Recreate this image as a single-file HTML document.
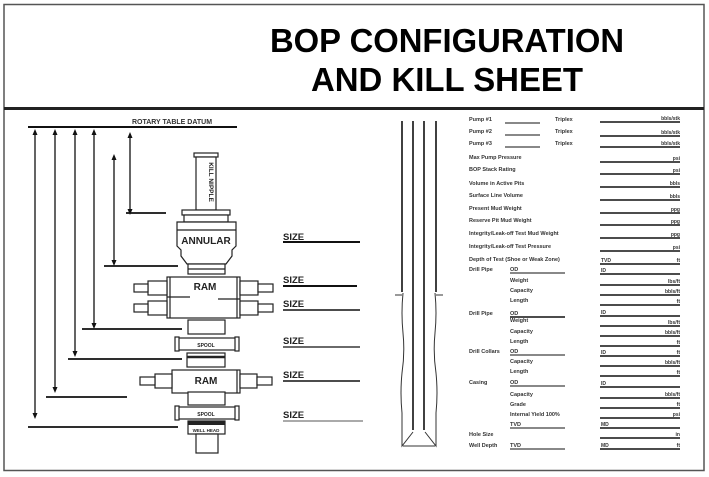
<!DOCTYPE html>
<html><head><meta charset="utf-8"><style>
html,body{margin:0;padding:0;background:#fff;}
svg{display:block;}
text{font-family:"Liberation Sans",sans-serif;}
</style></head><body>
<svg width="709" height="477" viewBox="0 0 709 477" xmlns="http://www.w3.org/2000/svg">
<rect x="0" y="0" width="709" height="477" fill="#fff"/>
<rect x="4" y="4.5" width="700" height="466" fill="none" stroke="#555" stroke-width="1.5"/>
<line x1="4" y1="108.5" x2="704" y2="108.5" stroke="#222" stroke-width="3"/>
<text x="447" y="52" font-size="33" font-weight="bold" text-anchor="middle" textLength="354" lengthAdjust="spacingAndGlyphs">BOP CONFIGURATION</text>
<text x="447" y="91" font-size="33" font-weight="bold" text-anchor="middle" textLength="272" lengthAdjust="spacingAndGlyphs">AND KILL SHEET</text>

<g stroke="#111" fill="none">
<!-- datum -->
<line x1="28" y1="127" x2="237" y2="127" stroke-width="2"/>
<!-- vertical arrows -->
<g stroke-width="1.3">
<line x1="35" y1="132" x2="35" y2="416"/>
<line x1="55" y1="132" x2="55" y2="390"/>
<line x1="75" y1="132" x2="75" y2="354"/>
<line x1="94" y1="132" x2="94" y2="326"/>
<line x1="130" y1="135" x2="130" y2="212"/>
<line x1="114" y1="157" x2="114" y2="263"/>
</g>
<!-- horizontal refs -->
<g stroke-width="1.8">
<line x1="126" y1="213" x2="166" y2="213"/>
<line x1="104" y1="266" x2="178" y2="266"/>
<line x1="82" y1="329" x2="182" y2="329"/>
<line x1="68" y1="359" x2="182" y2="359"/>
<line x1="46" y1="397" x2="127" y2="397"/>
<line x1="28" y1="427" x2="178" y2="427"/>
</g>
</g>
<g fill="#111">
<path d="M35 129 l-2.5 6 h5z M35 419 l-2.5 -6 h5z"/>
<path d="M55 129 l-2.5 6 h5z M55 393 l-2.5 -6 h5z"/>
<path d="M75 129 l-2.5 6 h5z M75 357 l-2.5 -6 h5z"/>
<path d="M94 129 l-2.5 6 h5z M94 329 l-2.5 -6 h5z"/>
<path d="M130 132 l-2.5 6 h5z M130 215 l-2.5 -6 h5z"/>
<path d="M114 154 l-2.5 6 h5z M114 266 l-2.5 -6 h5z"/>
</g>
<text x="172" y="124" font-size="7" font-weight="bold" text-anchor="middle" fill="#333">ROTARY TABLE DATUM</text>

<!-- BOP stack -->
<g stroke="#222" stroke-width="1.2" fill="#fff">
<!-- kill nipple -->
<rect x="194" y="153" width="24" height="4"/>
<rect x="196" y="157" width="20" height="53"/>
<!-- annular -->
<rect x="182" y="210" width="48" height="5"/>
<rect x="184" y="215" width="44" height="7"/>
<path d="M177 222 h59 v24 l-4 4 v6 l-6 8 h-39 l-6 -8 v-6 l-4 -4 z"/>
<line x1="177" y1="230" x2="236" y2="230"/>
<rect x="188" y="264" width="37" height="10"/>
<line x1="188" y1="269" x2="225" y2="269"/>
<!-- double ram -->
<rect x="167" y="277" width="73" height="41"/>
<line x1="170" y1="277" x2="170" y2="318"/>
<line x1="237" y1="277" x2="237" y2="318"/>
<line x1="167" y1="297" x2="190" y2="297"/>
<line x1="218" y1="299" x2="240" y2="299"/>
<rect x="148" y="281" width="19" height="14"/><rect x="134" y="284" width="14" height="8"/>
<rect x="148" y="301" width="19" height="14"/><rect x="134" y="304" width="14" height="8"/>
<rect x="240" y="281" width="18" height="14"/><rect x="258" y="284" width="15" height="8"/>
<rect x="240" y="301" width="18" height="14"/><rect x="258" y="304" width="15" height="8"/>
<!-- flange -->
<rect x="188" y="320" width="37" height="14"/>
<!-- spool -->
<rect x="178" y="338" width="58" height="12"/>
<rect x="175" y="337" width="4" height="14"/><rect x="235" y="337" width="4" height="14"/>
<!-- flange -->
<rect x="187" y="353" width="38" height="14"/>
<line x1="187" y1="357" x2="225" y2="357" stroke-width="2.5"/>
<!-- ram 2 -->
<rect x="172" y="370" width="68" height="23"/>
<line x1="237" y1="370" x2="237" y2="393"/>
<rect x="155" y="374" width="17" height="14"/><rect x="140" y="377" width="15" height="8"/>
<rect x="240" y="374" width="17" height="14"/><rect x="257" y="377" width="15" height="8"/>
<!-- flange -->
<rect x="188" y="392" width="37" height="13"/>
<!-- spool 2 -->
<rect x="178" y="407" width="58" height="12"/>
<rect x="175" y="406" width="4" height="14"/><rect x="235" y="406" width="4" height="14"/>
<!-- wellhead -->
<rect x="188" y="421" width="37" height="13"/>
<rect x="196" y="434" width="22" height="19"/>
</g>
<rect x="188" y="421" width="37" height="4" fill="#222"/>
<g font-weight="bold" fill="#222" text-anchor="middle">
<text x="0" y="0" font-size="6.5" transform="translate(209 182) rotate(90)">KILL NIPPLE</text>
<text x="206" y="244" font-size="10">ANNULAR</text>
<text x="205" y="290" font-size="10">RAM</text>
<text x="206" y="347" font-size="5">SPOOL</text>
<text x="206" y="384" font-size="10">RAM</text>
<text x="206" y="416" font-size="5">SPOOL</text>
<text x="206" y="432" font-size="4.5">WELL HEAD</text>
</g>
<!-- SIZE -->
<g font-size="9.5" font-weight="bold" fill="#222">
<text x="283" y="240">SIZE</text><line x1="283" y1="242" x2="360" y2="242" stroke="#111" stroke-width="2"/>
<text x="283" y="283">SIZE</text><line x1="283" y1="286" x2="357" y2="286" stroke="#111" stroke-width="2"/>
<text x="283" y="307">SIZE</text><line x1="283" y1="310" x2="360" y2="310" stroke="#111" stroke-width="1.5"/>
<text x="283" y="344">SIZE</text><line x1="283" y1="347" x2="360" y2="347" stroke="#111" stroke-width="1.3"/>
<text x="283" y="378">SIZE</text><line x1="283" y1="381" x2="360" y2="381" stroke="#111" stroke-width="1.5"/>
<text x="283" y="418">SIZE</text><line x1="283" y1="421" x2="363" y2="421" stroke="#555" stroke-width="1"/>
</g>

<!-- well -->
<g stroke="#111" stroke-width="1.6" fill="none">
<line x1="402" y1="121" x2="402" y2="292"/>
<line x1="413" y1="121" x2="413" y2="430"/>
<line x1="424" y1="121" x2="424" y2="430"/>
<line x1="436" y1="121" x2="436" y2="292"/>
</g>
<g stroke="#333" stroke-width="1" fill="none">
<path d="M395 295 h7 M436 295 h7"/>
<path d="M403 293 q-2 20 0 40 q2 20 -1 40 q-2 20 0 40 v33 l11 -14 M435 293 q2 20 0 40 q-2 20 1 40 q2 20 0 40 v33 l-11 -14"/>
<line x1="403" y1="446" x2="435" y2="446"/>
</g>

<!-- form -->
<g font-size="5.5" font-weight="bold" fill="#333">
<text x="469" y="121">Pump #1</text><text x="555" y="121">Triplex</text>
<text x="469" y="133">Pump #2</text><text x="555" y="133">Triplex</text>
<text x="469" y="145">Pump #3</text><text x="555" y="145">Triplex</text>
<text x="469" y="159">Max Pump Pressure</text>
<text x="469" y="171">BOP Stack Rating</text>
<text x="469" y="185">Volume in Active Pits</text>
<text x="469" y="197">Surface Line Volume</text>
<text x="469" y="210">Present Mud Weight</text>
<text x="469" y="222">Reserve Pit Mud Weight</text>
<text x="469" y="235">Integrity/Leak-off Test Mud Weight</text>
<text x="469" y="248">Integrity/Leak-off Test Pressure</text>
<text x="469" y="261">Depth of Test (Shoe or Weak Zone)</text>
<text x="469" y="271">Drill Pipe</text><text x="510" y="271">OD</text>
<text x="510" y="282">Weight</text>
<text x="510" y="292">Capacity</text>
<text x="510" y="302">Length</text>
<text x="469" y="315">Drill Pipe</text><text x="510" y="315">OD</text>
<text x="510" y="322">Weight</text>
<text x="510" y="333">Capacity</text>
<text x="510" y="343">Length</text>
<text x="469" y="353">Drill Collars</text><text x="510" y="353">OD</text>
<text x="510" y="363">Capacity</text>
<text x="510" y="373">Length</text>
<text x="469" y="384">Casing</text><text x="510" y="384">OD</text>
<text x="510" y="396">Capacity</text>
<text x="510" y="406">Grade</text>
<text x="510" y="416">Internal Yield 100%</text>
<text x="510" y="426">TVD</text>
<text x="469" y="436">Hole Size</text>
<text x="469" y="447">Well Depth</text><text x="510" y="447">TVD</text>
</g>
<g stroke="#111" stroke-width="1">
<line x1="505" y1="123" x2="540" y2="123"/>
<line x1="505" y1="135" x2="540" y2="135"/>
<line x1="505" y1="147" x2="540" y2="147"/>
<line x1="510" y1="273" x2="565" y2="273"/>
<line x1="510" y1="317" x2="565" y2="317" stroke-width="1.5"/>
<line x1="510" y1="355" x2="565" y2="355"/>
<line x1="510" y1="386" x2="565" y2="386"/>
<line x1="510" y1="428" x2="565" y2="428"/>
<line x1="510" y1="449" x2="565" y2="449"/>
</g>
<g stroke="#111" stroke-width="1.5">
<line x1="600" y1="122" x2="680" y2="122"/>
<line x1="600" y1="136" x2="680" y2="136"/>
<line x1="600" y1="147" x2="680" y2="147"/>
<line x1="600" y1="162" x2="680" y2="162"/>
<line x1="600" y1="174" x2="680" y2="174"/>
<line x1="600" y1="187" x2="680" y2="187"/>
<line x1="600" y1="200" x2="680" y2="200"/>
<line x1="600" y1="213" x2="680" y2="213"/>
<line x1="600" y1="225" x2="680" y2="225"/>
<line x1="600" y1="238" x2="680" y2="238"/>
<line x1="600" y1="251" x2="680" y2="251"/>
<line x1="600" y1="264" x2="680" y2="264"/>
<line x1="600" y1="274" x2="680" y2="274"/>
<line x1="600" y1="285" x2="680" y2="285"/>
<line x1="600" y1="295" x2="680" y2="295"/>
<line x1="600" y1="305" x2="680" y2="305"/>
<line x1="600" y1="316" x2="680" y2="316"/>
<line x1="600" y1="326" x2="680" y2="326"/>
<line x1="600" y1="336" x2="680" y2="336"/>
<line x1="600" y1="346" x2="680" y2="346"/>
<line x1="600" y1="356" x2="680" y2="356"/>
<line x1="600" y1="366" x2="680" y2="366"/>
<line x1="600" y1="376" x2="680" y2="376"/>
<line x1="600" y1="387" x2="680" y2="387"/>
<line x1="600" y1="398" x2="680" y2="398"/>
<line x1="600" y1="408" x2="680" y2="408"/>
<line x1="600" y1="418" x2="680" y2="418"/>
<line x1="600" y1="428" x2="680" y2="428"/>
<line x1="600" y1="438" x2="680" y2="438"/>
<line x1="600" y1="449" x2="680" y2="449"/>
</g>
<g font-size="5" font-weight="bold" fill="#333" text-anchor="end">
<text x="680" y="120">bbls/stk</text><text x="680" y="134">bbls/stk</text><text x="680" y="145">bbls/stk</text>
<text x="680" y="160">psi</text><text x="680" y="172">psi</text><text x="680" y="185">bbls</text>
<text x="680" y="198">bbls</text><text x="680" y="211">ppg</text><text x="680" y="223">ppg</text>
<text x="680" y="236">ppg</text><text x="680" y="249">psi</text><text x="680" y="262">ft</text>
<text x="680" y="283">lbs/ft</text><text x="680" y="293">bbls/ft</text><text x="680" y="303">ft</text>
<text x="680" y="324">lbs/ft</text><text x="680" y="334">bbls/ft</text><text x="680" y="344">ft</text>
<text x="680" y="354">ft</text><text x="680" y="364">bbls/ft</text><text x="680" y="374">ft</text>
<text x="680" y="396">bbls/ft</text><text x="680" y="406">ft</text><text x="680" y="416">psi</text>
<text x="680" y="436">in</text><text x="680" y="447">ft</text>
</g>
<g font-size="5" font-weight="bold" fill="#333">
<text x="601" y="262">TVD</text><text x="601" y="272">ID</text><text x="601" y="314">ID</text>
<text x="601" y="354">ID</text><text x="601" y="385">ID</text><text x="601" y="426">MD</text><text x="601" y="447">MD</text>
</g>
</svg>
</body></html>
